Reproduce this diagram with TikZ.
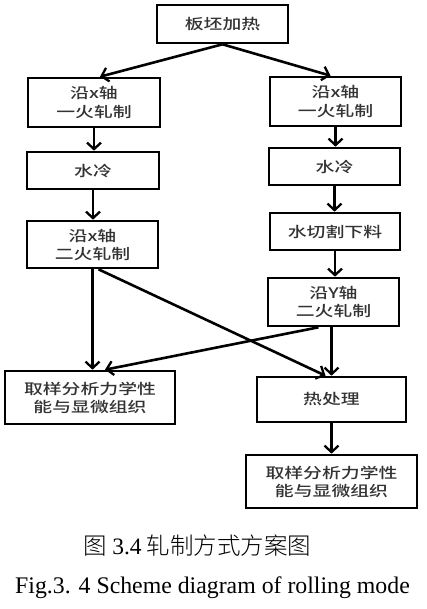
\documentclass[tikz,border=0pt]{standalone}
\usepackage{fontspec}
\newfontfamily\cjk[FakeStretch=1.3]{Noto Sans CJK SC Medium}
\newfontfamily\cjkcap{Noto Sans CJK SC Light}
\setmainfont{Liberation Serif}
\usetikzlibrary{arrows.meta,calc}
\tikzset{
  boxnode/.style={draw=black, line width=2.6pt, rectangle, align=center,
    font=\cjk\fontsize{14.5}{18}\selectfont, text=black!80, inner sep=0pt},
  flowarrow/.style={line width=2.6pt, -{Straight Barb[length=6.5pt,width=14pt,line width=2.3pt]}},
  captiontext/.style={inner sep=0pt}
}
\begin{document}
\begin{tikzpicture}[x=1pt,y=-1pt]
\useasboundingbox (0,0) rectangle (427,609);
\node[boxnode, minimum width=131pt, minimum height=38pt] (top) at (222.5,24) {板坯加热};
\node[boxnode, minimum width=132pt, minimum height=49pt] (L1) at (94,102.5) {沿x轴\\一火轧制};
\node[boxnode, minimum width=131pt, minimum height=49pt] (R1) at (335.5,101.5) {沿x轴\\一火轧制};
\node[boxnode, minimum width=132pt, minimum height=37pt] (L2) at (93,170.5) {水冷};
\node[boxnode, minimum width=131pt, minimum height=37pt] (R2) at (334.5,166.5) {水冷};
\node[boxnode, minimum width=131pt, minimum height=47pt] (L3) at (92.5,244.5) {沿x轴\\二火轧制};
\node[boxnode, minimum width=130pt, minimum height=37pt] (R3) at (335,231.5) {水切割下料};
\node[boxnode, minimum width=131pt, minimum height=48pt] (R4) at (333.5,302) {沿Y轴\\二火轧制};
\node[boxnode, minimum width=170pt, minimum height=53pt] (L4) at (90,397.5) {取样分析力学性\\能与显微组织};
\node[boxnode, minimum width=149pt, minimum height=45pt] (R5) at (331.5,399.5) {热处理};
\node[boxnode, minimum width=171pt, minimum height=53pt] (R6) at (331.5,481.5) {取样分析力学性\\能与显微组织};

\node[captiontext, font=\cjkcap\fontsize{23.5}{28}\selectfont] (cap1) at (197.5,546) {图 {\rmfamily 3.4} 轧制方式方案图};
\node[captiontext, font=\fontsize{23.8}{28}\selectfont] (cap2) at (212.5,588) {Fig.3. 4 Scheme diagram of rolling mode};

\draw[flowarrow] (top.south) -- ([xshift=6pt]L1.north);
\draw[flowarrow] (top.south) -- ([xshift=-5pt]R1.north);
\draw[flowarrow] (L1.south) -- (L1.south |- L2.north);
\draw[flowarrow] (R1.south) -- (R1.south |- R2.north);
\draw[flowarrow] (L2.south) -- (L2.south |- L3.north);
\draw[flowarrow] (R2.south) -- (R2.south |- R3.north);
\draw[flowarrow] (R3.south) -- (R3.south |- R4.north);
\draw[flowarrow] (L3.south) -- (L3.south |- L4.north);
\draw[flowarrow] ([xshift=6pt]L3.south) -- ([xshift=-6pt]R5.north);
\draw[flowarrow] ([xshift=-15pt]R4.south) -- ([xshift=15pt]L4.north);
\draw[flowarrow] ([xshift=-2pt]R4.south) -- ([xshift=-2pt]R4.south |- R5.north);
\draw[flowarrow] (R5.south) -- (R5.south |- R6.north);
\end{tikzpicture}
\end{document}
